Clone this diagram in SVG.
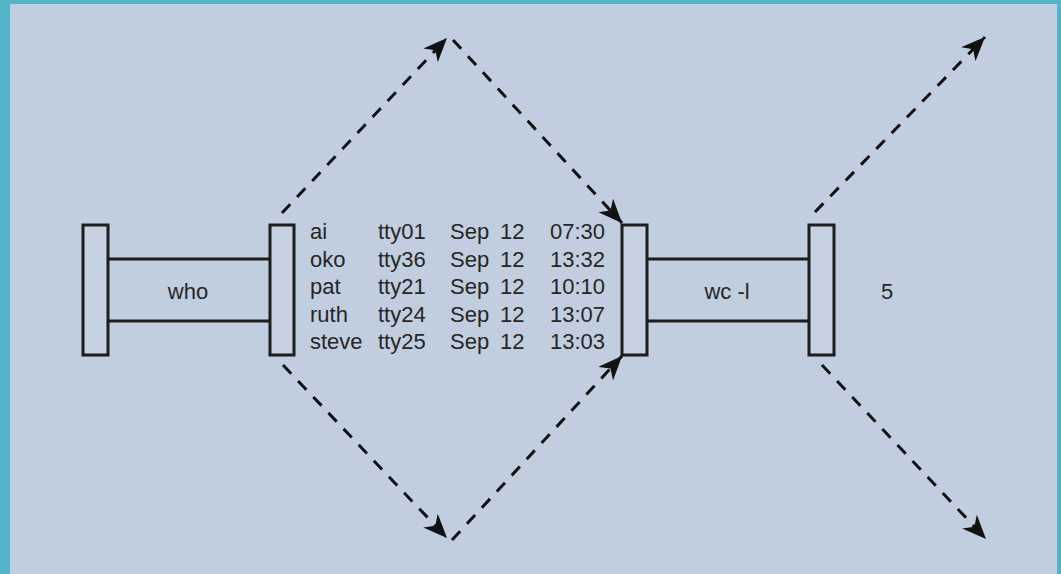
<svg xmlns="http://www.w3.org/2000/svg" width="1061" height="574" viewBox="0 0 1061 574">
<style>
.bar{fill:#c6d2e2;stroke:#1c1c1c;stroke-width:3}
.rail{stroke:#1c1c1c;stroke-width:3;fill:none}
.t{font-family:"Liberation Sans",Arial,sans-serif;font-size:22px;fill:#262626}
.d{stroke:#111;stroke-width:3;fill:none;stroke-dasharray:12 10;marker-end:url(#ah)}
</style>
<defs>
<marker id="ah" markerWidth="26" markerHeight="22" refX="24" refY="10" orient="auto" markerUnits="userSpaceOnUse">
<path d="M0,0 L24,10 L0,20 L7,10 z" fill="#111"/>
</marker>
</defs>
<rect x="0" y="0" width="1061" height="574" fill="#52b6c8"/>
<rect x="10" y="4" width="1047" height="570" fill="#c1cedf"/>
<g id="who">
<line class="rail" x1="108" y1="259" x2="270" y2="259"/>
<line class="rail" x1="108" y1="321" x2="270" y2="321"/>
<rect class="bar" x="83" y="225" width="25" height="130"/>
<rect class="bar" x="270" y="225" width="24" height="130"/>
<text class="t" x="188" y="299" text-anchor="middle">who</text>
</g>
<g id="wc">
<line class="rail" x1="647" y1="259" x2="809" y2="259"/>
<line class="rail" x1="647" y1="321" x2="809" y2="321"/>
<rect class="bar" x="622" y="225" width="25" height="130"/>
<rect class="bar" x="809" y="225" width="25" height="130"/>
<text class="t" x="727" y="299" text-anchor="middle">wc -l</text>
</g>
<g id="output">
<text class="t" x="887" y="299" text-anchor="middle">5</text>
</g>
<g id="table" class="t">
<text x="310" y="239">ai</text><text x="378" y="239">tty01</text><text x="450" y="239">Sep</text><text x="500" y="239">12</text><text x="605" y="239" text-anchor="end">07:30</text>
<text x="310" y="267">oko</text><text x="378" y="267">tty36</text><text x="450" y="267">Sep</text><text x="500" y="267">12</text><text x="605" y="267" text-anchor="end">13:32</text>
<text x="310" y="294">pat</text><text x="378" y="294">tty21</text><text x="450" y="294">Sep</text><text x="500" y="294">12</text><text x="605" y="294" text-anchor="end">10:10</text>
<text x="310" y="322">ruth</text><text x="378" y="322">tty24</text><text x="450" y="322">Sep</text><text x="500" y="322">12</text><text x="605" y="322" text-anchor="end">13:07</text>
<text x="310" y="349">steve</text><text x="378" y="349">tty25</text><text x="450" y="349">Sep</text><text x="500" y="349">12</text><text x="605" y="349" text-anchor="end">13:03</text>
</g>
<g id="connectors">
<line class="d" x1="282" y1="213" x2="447" y2="38"/>
<line class="d" x1="453" y1="40" x2="622" y2="223"/>
<line class="d" x1="283" y1="365" x2="447" y2="538"/>
<line class="d" x1="452" y1="540" x2="622" y2="356"/>
<line class="d" x1="815" y1="212" x2="985" y2="37"/>
<line class="d" x1="822" y1="365" x2="986" y2="539"/>
</g>
</svg>
